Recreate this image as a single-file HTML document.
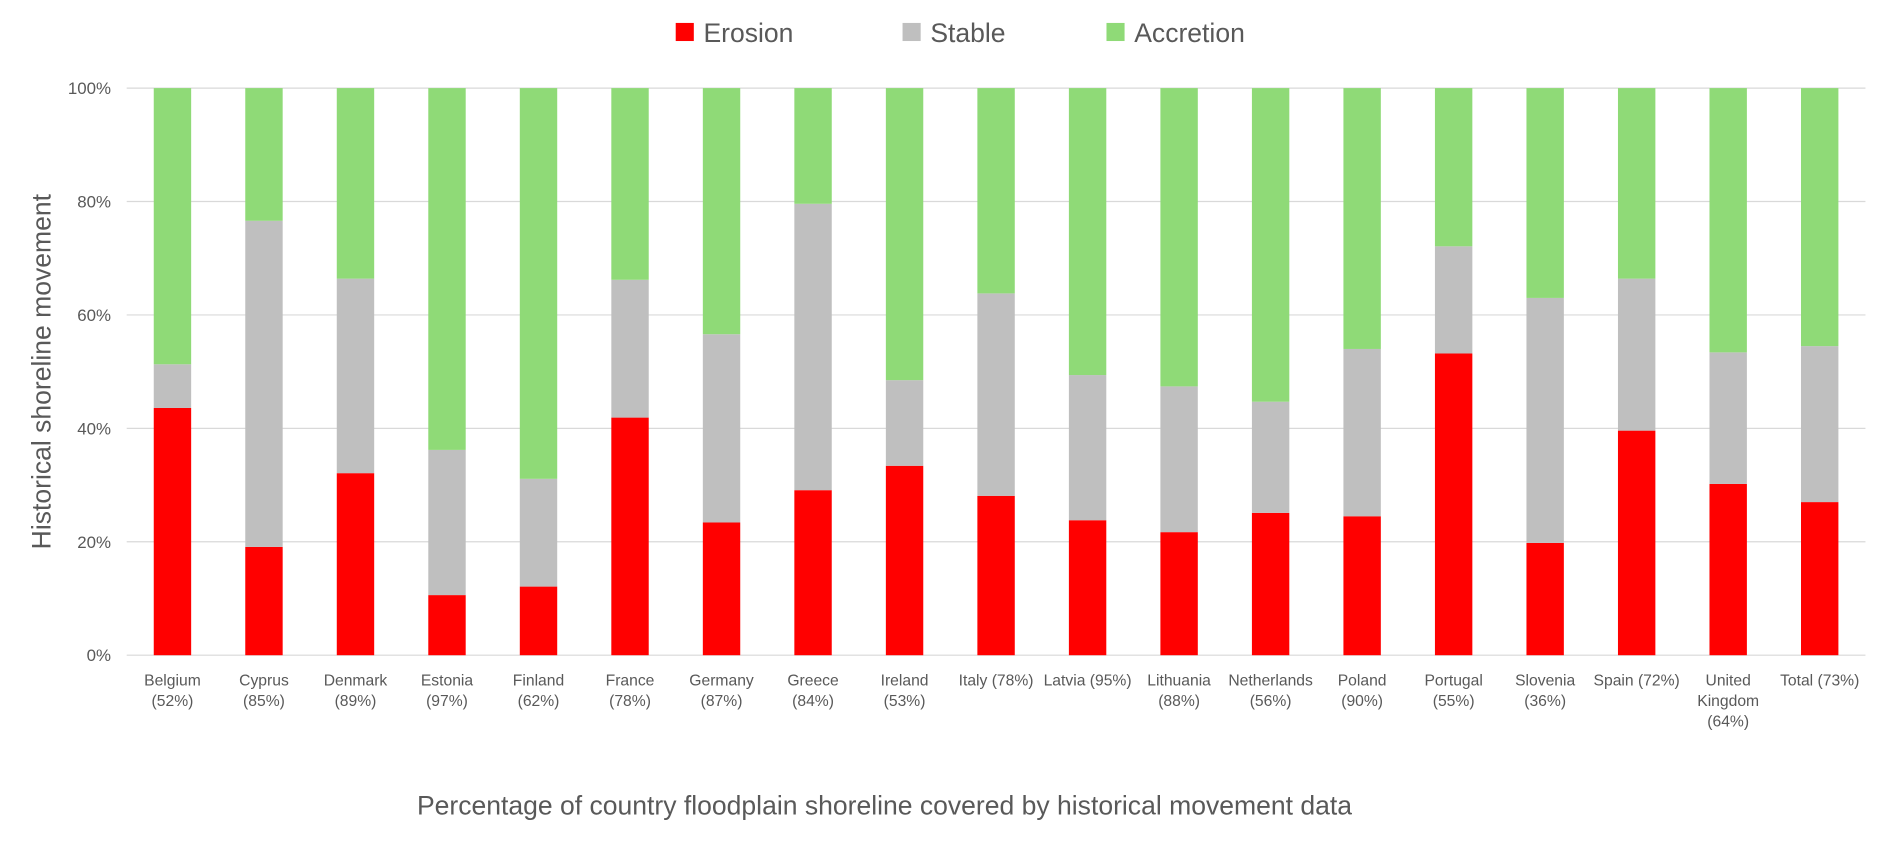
<!DOCTYPE html>
<html><head><meta charset="utf-8"><style>
body{margin:0;background:#fff;width:1892px;height:849px;overflow:hidden;font-family:"Liberation Sans",sans-serif}
</style></head><body>
<svg id="chart" width="1892" height="849" viewBox="0 0 1568 703.6" xmlns="http://www.w3.org/2000/svg" font-family="Liberation Sans, sans-serif"></svg>
<script>
const categories=[["Belgium","(52%)"],["Cyprus","(85%)"],["Denmark","(89%)"],["Estonia","(97%)"],["Finland","(62%)"],["France","(78%)"],["Germany","(87%)"],["Greece","(84%)"],["Ireland","(53%)"],["Italy (78%)"],["Latvia (95%)"],["Lithuania","(88%)"],["Netherlands","(56%)"],["Poland","(90%)"],["Portugal","(55%)"],["Slovenia","(36%)"],["Spain (72%)"],["United","Kingdom","(64%)"],["Total (73%)"]];
const erosion=[43.6,19.1,32.1,10.6,12.1,41.9,23.4,29.1,33.4,28.1,23.8,21.7,25.1,24.5,53.2,19.8,39.6,30.2,27.0];
const stable=[7.7,57.5,34.3,25.6,19.0,24.3,33.2,50.5,15.1,35.7,25.6,25.7,19.6,29.5,18.9,43.2,26.8,23.2,27.5];
const accretion=erosion.map((e,i)=>100-e-stable[i]);
const yTicks=[0,20,40,60,80,100];
const svg=document.getElementById('chart');
const NS="http://www.w3.org/2000/svg";
const y0=543,y1=73,x0=105,x1=1546;
const yS=v=>y0-(v/100)*(y0-y1);
const band=(x1-x0)/categories.length;
const xC=i=>x0+band*(i+0.5);
const bw=31;
function mk(t,a,p){const e=document.createElementNS(NS,t);for(const k in a)e.setAttribute(k,a[k]);(p||svg).appendChild(e);return e;}
yTicks.forEach(t=>{
  const l=mk('line',{x1:x0,x2:x1,y1:yS(t),y2:yS(t),stroke:'#d9d9d9','stroke-width':1});
  
  
  const tx=mk('text',{x:92,y:yS(t)+5,'text-anchor':'end','font-size':14,fill:'#595959'});
  tx.textContent=t+'%';
  
  
});
const series=[[erosion,'#ff0000','erosion'],[stable,'#bfbfbf','stable'],[accretion,'#8fda77','accretion']];
categories.forEach((c,i)=>{
  let acc=0;
  series.forEach(([arr,col,nm])=>{
    const v=arr[i];
    const r=mk('rect',{x:xC(i)-bw/2,y:yS(acc+v),width:bw,height:yS(acc)-yS(acc+v),fill:col});
    
    
    acc+=v;
  });
  const t=mk('text',{'text-anchor':'middle','font-size':13,fill:'#595959'});
  
  
  c.forEach((s,j)=>{const ts=mk('tspan',{x:xC(i),y:568+j*17},t);ts.textContent=s;});
});
const yt=mk('text',{x:0,y:0,transform:'translate(42,308) rotate(-90)','text-anchor':'middle','font-size':22,fill:'#595959'});
yt.textContent='Historical shoreline movement';


const xt=mk('text',{x:733,y:675,'text-anchor':'middle','font-size':22,fill:'#595959'});
xt.textContent='Percentage of country floodplain shoreline covered by historical movement data';


const legend=[['Erosion','#ff0000',560],['Stable','#bfbfbf',748],['Accretion','#8fda77',917]];
legend.forEach(([n,c,x])=>{
  const g=mk('g',{});
  
  
  mk('rect',{x:x,y:19,width:15,height:15,fill:c},g);
  const t=mk('text',{x:x+23,y:35,'font-size':22,fill:'#595959'},g);t.textContent=n;
});
</script>
</body></html>
